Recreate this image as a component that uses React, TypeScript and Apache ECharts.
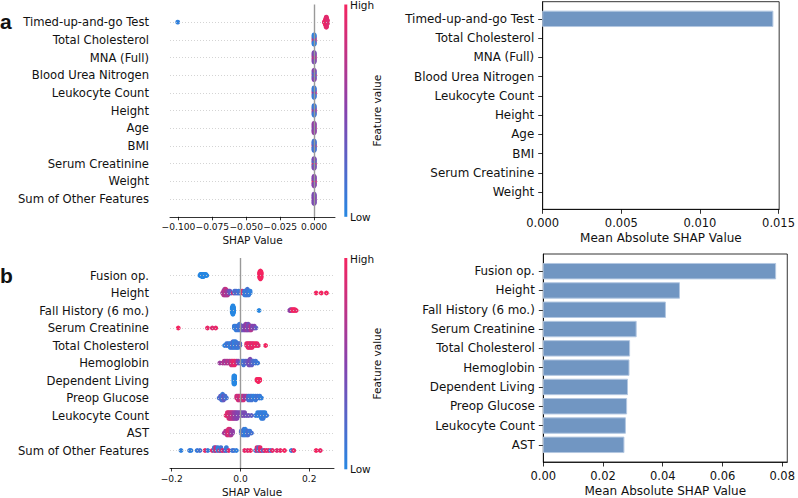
import React, { useEffect, useRef } from "react";
import * as echarts from "echarts";

const FONT = "DejaVu Sans";
const TEXT = "#111111";

// ---------- Panel a ----------
const featuresA = [
  "Timed-up-and-go Test",
  "Total Cholesterol",
  "MNA (Full)",
  "Blood Urea Nitrogen",
  "Leukocyte Count",
  "Height",
  "Age",
  "BMI",
  "Serum Creatinine",
  "Weight",
  "Sum of Other Features",
];
const barFeaturesA = featuresA.slice(0, 10);
const meanAbsA = [0.01464, 0, 0, 0, 0, 0, 0, 0, 0, 0];

// samples per feature row: [shap value, normalised feature value, count]
const shapA: number[][][] = [
  [[-0.1005, 0.05, 1], [0.0078, 0.95, 3], [0.0082, 0.9, 5], [0.0086, 1, 6], [0.009, 0.92, 6], [0.0094, 0.97, 4], [0.0098, 0.9, 2]],
  [[0, 0.1, 3], [0, 0.95, 4], [0, 0.3, 3], [0, 0.05, 6]],
  [[0, 0.95, 2], [0, 0.5, 5], [0, 0.9, 2], [0, 0.45, 7]],
  [[0, 0.9, 3], [0, 0.4, 5], [0, 0.2, 4], [0, 0.5, 4]],
  [[0, 0.95, 3], [0, 0.5, 5], [0, 0.1, 8]],
  [[0, 0.5, 4], [0, 0.8, 2], [0, 0.35, 5], [0, 0.1, 5]],
  [[0, 0.95, 3], [0, 0.45, 6], [0, 0.55, 7]],
  [[0, 0.9, 3], [0, 0.3, 5], [0, 0.15, 8]],
  [[0, 0.4, 4], [0, 0.95, 3], [0, 0.2, 5], [0, 0.45, 4]],
  [[0, 0.6, 4], [0, 0.95, 3], [0, 0.4, 5], [0, 0.5, 4]],
  [[0, 0.5, 8], [0, 0.45, 8]],
];

// ---------- Panel b ----------
const featuresB = [
  "Fusion op.",
  "Height",
  "Fall History (6 mo.)",
  "Serum Creatinine",
  "Total Cholesterol",
  "Hemoglobin",
  "Dependent Living",
  "Preop Glucose",
  "Leukocyte Count",
  "AST",
  "Sum of Other Features",
];
const barFeaturesB = featuresB.slice(0, 10);
const meanAbsB = [0.0778, 0.0456, 0.0409, 0.0311, 0.0289, 0.0287, 0.0282, 0.0279, 0.0275, 0.027];

const shapB: number[][][] = [
  // Fusion op.
  [[0.056, 1, 6], [0.058, 1, 8], [0.06, 1, 6], [-0.118, 0, 1], [-0.116, 0, 2], [-0.114, 0, 2], [-0.112, 0, 3], [-0.11, 0, 3], [-0.108, 0, 3], [-0.106, 0, 2], [-0.104, 0, 2], [-0.101, 0, 2], [-0.098, 0, 1]],
  // Height
  [[-0.052, 0.6, 1], [-0.049, 0.75, 3], [-0.046, 0.6, 4], [-0.043, 0.8, 4], [-0.04, 0.55, 3], [-0.037, 0.7, 3], [-0.034, 0.5, 2], [-0.031, 0.35, 2], [-0.027, 0.25, 1], [-0.021, 0.9, 1], [-0.017, 0.15, 2], [-0.013, 0.2, 2], [-0.009, 0.3, 1], [-0.005, 0.1, 2], [-0.002, 0.15, 1], [0.005, 0.95, 2], [0.012, 0.1, 3], [0.016, 0.05, 3], [0.02, 0.15, 4], [0.024, 0.1, 3], [0.028, 0.05, 2], [0.22, 1, 1], [0.235, 1, 1], [0.25, 1, 1]],
  // Fall History (6 mo.)
  [[-0.024, 0, 6], [-0.022, 0, 10], [-0.02, 0, 6], [0.054, 0, 1], [0.143, 0.6, 1], [0.146, 0.5, 2], [0.15, 0.9, 2], [0.154, 1, 2], [0.158, 1, 2], [0.162, 0.95, 1]],
  // Serum Creatinine
  [[-0.181, 1, 1], [-0.096, 0.95, 1], [-0.082, 0.9, 1], [-0.072, 0.95, 1], [-0.018, 0.1, 2], [-0.013, 0.05, 3], [-0.008, 0.15, 3], [-0.003, 0.1, 4], [0.002, 0.2, 3], [0.006, 0.35, 3], [0.011, 0.45, 3], [0.015, 0.5, 4], [0.019, 0.6, 4], [0.023, 0.4, 4], [0.027, 0.55, 3], [0.031, 0.7, 3], [0.035, 0.45, 2], [0.04, 0.5, 2], [0.045, 0.3, 1]],
  // Total Cholesterol
  [[-0.046, 0.05, 1], [-0.04, 0.1, 2], [-0.035, 0.15, 2], [-0.03, 0.05, 3], [-0.026, 0.1, 3], [-0.022, 0.2, 4], [-0.018, 0.05, 4], [-0.014, 0.1, 4], [-0.01, 0.15, 3], [-0.006, 0.1, 3], [-0.002, 0.2, 2], [0.018, 0.95, 2], [0.022, 0.9, 3], [0.026, 1, 3], [0.03, 0.85, 3], [0.034, 0.95, 3], [0.038, 0.9, 2], [0.043, 1, 2], [0.048, 0.95, 2], [0.052, 0.9, 1], [0.073, 1, 1]],
  // Hemoglobin
  [[-0.06, 0.6, 1], [-0.052, 0.65, 1], [-0.047, 0.7, 2], [-0.042, 0.6, 2], [-0.037, 0.75, 2], [-0.032, 0.65, 2], [-0.027, 0.8, 3], [-0.022, 0.9, 3], [-0.017, 0.95, 3], [-0.012, 0.85, 2], [-0.007, 0.5, 2], [-0.002, 0.3, 1], [0.004, 0.2, 2], [0.009, 0.15, 3], [0.014, 0.25, 2], [0.019, 0.3, 2], [0.024, 0.4, 3], [0.028, 0.45, 4], [0.033, 0.3, 3], [0.038, 0.2, 2], [0.044, 0.15, 2], [0.05, 0.1, 1]],
  // Dependent Living
  [[-0.019, 0, 8], [-0.017, 0, 8], [0.048, 1, 2], [0.052, 1, 3], [0.056, 1, 2]],
  // Preop Glucose
  [[-0.062, 0.15, 1], [-0.058, 0.3, 2], [-0.055, 0.2, 3], [-0.052, 0.1, 4], [-0.049, 0.35, 3], [-0.045, 0.2, 2], [-0.041, 0.15, 1], [-0.011, 0.8, 2], [-0.007, 0.9, 3], [-0.003, 0.7, 3], [0.001, 0.95, 3], [0.005, 0.6, 3], [0.009, 0.85, 3], [0.013, 0.5, 2], [0.018, 0.7, 2], [0.023, 0.2, 3], [0.028, 0.1, 3], [0.033, 0.15, 3], [0.038, 0.05, 2], [0.044, 0.1, 3], [0.05, 0.15, 2], [0.056, 0.1, 2], [0.061, 0.05, 1]],
  // Leukocyte Count
  [[-0.042, 0.95, 1], [-0.038, 0.9, 2], [-0.034, 0.85, 3], [-0.03, 0.8, 3], [-0.026, 0.75, 3], [-0.022, 0.7, 3], [-0.018, 0.6, 3], [-0.014, 0.55, 3], [-0.01, 0.5, 3], [-0.005, 0.45, 2], [0, 0.5, 2], [0.006, 0.4, 2], [0.012, 0.45, 2], [0.018, 0.35, 1], [0.024, 0.4, 1], [0.032, 0.3, 1], [0.044, 0.1, 1], [0.05, 0.05, 2], [0.056, 0.1, 2], [0.061, 0.05, 3], [0.066, 0.1, 3], [0.071, 0.05, 2], [0.076, 0.1, 1]],
  // AST
  [[-0.047, 0.6, 1], [-0.043, 0.7, 2], [-0.039, 0.75, 3], [-0.035, 0.9, 4], [-0.031, 0.85, 4], [-0.027, 0.65, 3], [-0.023, 0.55, 2], [0.002, 0.2, 2], [0.006, 0.1, 3], [0.01, 0.15, 4], [0.014, 0.05, 4], [0.018, 0.1, 3], [0.022, 0.2, 3], [0.027, 0.1, 2], [0.032, 0.15, 1]],
  // Sum of Other Features
  [[-0.173, 0.05, 1], [-0.148, 0.1, 1], [-0.144, 0.05, 1], [-0.126, 0.1, 1], [-0.118, 0.15, 1], [-0.103, 0.95, 1], [-0.095, 0.1, 1], [-0.082, 0.9, 1], [-0.076, 0.1, 2], [-0.072, 0.85, 2], [-0.066, 0.05, 2], [-0.061, 0.9, 1], [-0.057, 0.15, 2], [-0.052, 0.95, 1], [-0.046, 0.5, 1], [-0.041, 0.1, 2], [-0.034, 0.9, 1], [-0.024, 0.1, 1], [-0.019, 0.15, 1], [-0.012, 0.05, 1], [0.012, 0.95, 1], [0.021, 0.9, 1], [0.029, 1, 1], [0.044, 0.1, 1], [0.048, 0.9, 2], [0.053, 0.15, 2], [0.057, 0.95, 2], [0.061, 0.85, 1], [0.066, 0.1, 1], [0.07, 0.9, 1], [0.076, 0.95, 1], [0.082, 0.9, 1], [0.088, 0.1, 1], [0.093, 0.95, 1], [0.106, 0.9, 1], [0.116, 0.95, 1], [0.128, 1, 1], [0.148, 0.1, 1], [0.155, 0.95, 1], [0.22, 1, 1], [0.232, 0.95, 1]],
];

// axis ticks
const ticksA = [-0.1, -0.075, -0.05, -0.025, 0];
const ticksB = [-0.2, 0, 0.2];
const barTicksA = [0, 0.005, 0.01, 0.015];
const barTicksB = [0, 0.02, 0.04, 0.06, 0.08];

// red–blue feature colormap (low -> high)
const LOW = [38, 135, 226];
const MID = [134, 66, 174];
const HIGH = [244, 36, 96];

function featureColor(f: number): string {
  const a = f < 0.5 ? LOW : MID;
  const b = f < 0.5 ? MID : HIGH;
  const t = f < 0.5 ? f / 0.5 : (f - 0.5) / 0.5;
  const c = a.map((v, i) => Math.round(v + (b[i] - v) * t));
  return `rgb(${c[0]},${c[1]},${c[2]})`;
}

const SPREAD = 0.32;

// beeswarm offsets: bin the values, then stack alternately above/below the row
function swarmOffsets(xs: number[]): number[] {
  const mn = Math.min(...xs);
  const mx = Math.max(...xs);
  const quant = xs.map((x) => Math.round((100 * (x - mn)) / (mx - mn + 1e-8)));
  const order = xs.map((_, i) => i).sort((a, b) => quant[a] - quant[b] || a - b);
  const ys = new Array(xs.length).fill(0);
  let layer = 0;
  let last = -1;
  for (const i of order) {
    if (quant[i] !== last) layer = 0;
    ys[i] = Math.ceil(layer / 2) * ((layer % 2) * 2 - 1);
    layer++;
    last = quant[i];
  }
  const m = Math.max(...ys) + 1;
  return ys.map((y) => (y * SPREAD) / m);
}

function swarmPoints(rows: number[][][]) {
  const out: any[] = [];
  const n = rows.length;
  rows.forEach((row, k) => {
    const xs: number[] = [];
    const fs: number[] = [];
    row.forEach(([x, f, c]) => {
      for (let j = 0; j < c; j++) {
        xs.push(x);
        fs.push(f);
      }
    });
    const ys = swarmOffsets(xs);
    const pos = n - 1 - k;
    xs.forEach((x, i) => {
      out.push({ value: [x, pos + ys[i]], itemStyle: { color: featureColor(fs[i]) } });
    });
  });
  return out;
}

const fmt = (v: number, d: number) => (v < -1e-12 ? "\u2212" : "") + Math.abs(v).toFixed(d);

function swarmAxes(gridIndex: number, min: number, max: number, ticks: number[], digits: number, names: string[]) {
  const n = names.length;
  const idx = names.map((_, i) => i);
  return {
    x: {
      gridIndex,
      type: "value",
      min,
      max,
      axisLine: { show: true, onZero: false, lineStyle: { color: "#000", width: 0.8 } },
      axisTick: { show: true, length: 3.5, customValues: ticks, lineStyle: { color: "#000", width: 0.8 } },
      axisLabel: {
        customValues: ticks,
        showMinLabel: true,
        showMaxLabel: true,
        hideOverlap: false,
        formatter: (v: number) => fmt(v, digits),
        fontFamily: FONT,
        fontSize: 9.1,
        color: TEXT,
        margin: 6,
      },
      splitLine: { show: false },
      name: "SHAP Value",
      nameLocation: "middle",
      nameGap: 18,
      nameTextStyle: { fontFamily: FONT, fontSize: 10.5, color: TEXT },
    },
    y: {
      gridIndex,
      type: "value",
      min: -1,
      max: n,
      axisLine: { show: false, onZero: false },
      axisTick: { show: false },
      splitLine: { show: false },
      axisLabel: {
        customValues: idx,
        showMinLabel: true,
        showMaxLabel: true,
        formatter: (v: number) => names[n - 1 - Math.round(v)],
        fontFamily: FONT,
        fontSize: 11.6,
        color: TEXT,
        margin: 21,
      },
    },
  };
}

function barAxes(gridIndex: number, max: number, ticks: number[], digits: number, names: string[]) {
  const idx = names.map((_, i) => i);
  return {
    x: {
      gridIndex,
      type: "value",
      min: 0,
      max,
      axisLine: { show: true, onZero: false, lineStyle: { color: "#000", width: 0.8 } },
      axisTick: { show: true, length: 4.5, customValues: ticks, lineStyle: { color: "#000", width: 0.8 } },
      axisLabel: {
        customValues: ticks,
        showMinLabel: true,
        showMaxLabel: true,
        formatter: (v: number) => fmt(v, digits),
        fontFamily: FONT,
        fontSize: 11.5,
        color: TEXT,
        margin: 8,
      },
      splitLine: { show: false },
      name: "Mean Absolute SHAP Value",
      nameLocation: "middle",
      nameGap: 23,
      nameTextStyle: { fontFamily: FONT, fontSize: 12, color: TEXT },
    },
    y: {
      gridIndex,
      type: "value",
      inverse: true,
      min: -0.89,
      max: names.length - 0.11,
      axisLine: { show: true, onZero: false, lineStyle: { color: "#000", width: 0.8 } },
      axisTick: { show: true, length: 4.5, customValues: idx, lineStyle: { color: "#000", width: 0.8 } },
      splitLine: { show: false },
      axisLabel: {
        customValues: idx,
        showMinLabel: true,
        showMaxLabel: true,
        formatter: (v: number) => names[Math.round(v)],
        fontFamily: FONT,
        fontSize: 11.9,
        color: TEXT,
        margin: 8.5,
      },
    },
  };
}

function guideSeries(axisIndex: number, rows: number) {
  const lines: any[] = [];
  for (let i = 0; i < rows; i++) {
    lines.push({ yAxis: i, lineStyle: { color: "#c9c9c9", width: 0.8, type: [1, 2] } });
  }
  lines.push({ xAxis: 0, lineStyle: { color: "#999999", width: 1.4, type: "solid" } });
  return {
    type: "scatter",
    xAxisIndex: axisIndex,
    yAxisIndex: axisIndex,
    data: [],
    silent: true,
    z: 1,
    markLine: { silent: true, symbol: ["none", "none"], label: { show: false }, animation: false, data: lines },
  };
}

function barSeries(axisIndex: number, values: number[]) {
  return {
    type: "custom",
    xAxisIndex: axisIndex,
    yAxisIndex: axisIndex,
    data: values.map((v, i) => [v, i]),
    encode: { x: 0, y: 1 },
    renderItem: (_p: any, api: any) => {
      const v = api.value(0);
      const i = api.value(1);
      const a = api.coord([0, i - 0.4]);
      const b = api.coord([v, i + 0.4]);
      const w = b[0] - a[0];
      return {
        type: "rect",
        shape: { x: a[0], y: Math.min(a[1], b[1]), width: w, height: Math.abs(b[1] - a[1]) },
        style: { fill: "#7196c2", stroke: w > 0.5 ? "#b3c7e1" : "none", lineWidth: 1 },
      };
    },
  };
}

function colorbar(top: number, bottom: number) {
  const cx = 344.3;
  return [
    {
      type: "rect",
      shape: { x: cx, y: top, width: 3, height: bottom - top },
      style: {
        fill: new echarts.graphic.LinearGradient(0, 0, 0, 1, [
          { offset: 0, color: featureColor(1) },
          { offset: 0.5, color: featureColor(0.5) },
          { offset: 1, color: featureColor(0) },
        ]),
      },
    },
    {
      type: "text",
      x: 350,
      y: top + 0.5,
      style: { text: "High", fontFamily: FONT, fontSize: 10.5, fill: TEXT, align: "left", verticalAlign: "middle", textAlign: "left", textVerticalAlign: "middle" },
    },
    {
      type: "text",
      x: 350,
      y: bottom,
      style: { text: "Low", fontFamily: FONT, fontSize: 10.5, fill: TEXT, align: "left", verticalAlign: "middle", textAlign: "left", textVerticalAlign: "middle" },
    },
    {
      type: "text",
      x: 377,
      y: (top + bottom) / 2,
      rotation: Math.PI / 2,
      style: { text: "Feature value", fontFamily: FONT, fontSize: 10.5, fill: TEXT, align: "center", verticalAlign: "middle", textAlign: "center", textVerticalAlign: "middle" },
    },
  ];
}

const panelTag = (text: string, y: number) => ({
  type: "text",
  x: 0,
  y,
  style: {
    text,
    fontFamily: "Liberation Sans",
    fontWeight: "bold",
    fontSize: 21,
    fill: "#111",
    align: "left",
    verticalAlign: "middle",
    textAlign: "left",
    textVerticalAlign: "middle",
  },
});

export default function App() {
  const ref = useRef<HTMLDivElement>(null);

  useEffect(() => {
    if (!ref.current) return;
    const chart = echarts.init(ref.current, null, { renderer: "svg", width: 798, height: 498 });

    const sa = swarmAxes(0, -0.1062, 0.0154, ticksA, 3, featuresA);
    const ba = barAxes(1, 0.01504, barTicksA, 3, barFeaturesA);
    const sb = swarmAxes(2, -0.205, 0.272, ticksB, 1, featuresB);
    const bb = barAxes(3, 0.0817, barTicksB, 2, barFeaturesB);

    const frame = { show: true, borderColor: "#000", borderWidth: 0.8, backgroundColor: "transparent" };
    const dots = { type: "scatter", symbolSize: 4.8, z: 2, silent: true, itemStyle: { opacity: 1 } };

    chart.setOption({
      animation: false,
      backgroundColor: "#ffffff",
      grid: [
        { left: 170, top: 4.5, width: 165, height: 212.3 },
        { left: 542.7, top: 1.7, width: 239.6, height: 207.6, ...frame },
        { left: 170, top: 258, width: 164, height: 211.3 },
        { left: 543.3, top: 254, width: 244.4, height: 209.3, ...frame },
      ],
      xAxis: [sa.x, ba.x, sb.x, bb.x],
      yAxis: [sa.y, ba.y, sb.y, bb.y],
      series: [
        guideSeries(0, featuresA.length),
        { ...dots, xAxisIndex: 0, yAxisIndex: 0, data: swarmPoints(shapA) },
        barSeries(1, meanAbsA),
        guideSeries(2, featuresB.length),
        { ...dots, xAxisIndex: 2, yAxisIndex: 2, data: swarmPoints(shapB) },
        barSeries(3, meanAbsB),
      ],
      graphic: [
        ...colorbar(4.5, 216.8),
        ...colorbar(258, 469.3),
        panelTag("a", 21),
        panelTag("b", 275.5),
      ],
    });

    return () => chart.dispose();
  }, []);

  return <div ref={ref} style={{ position: "fixed", left: 0, top: 0, width: 798, height: 498 }} />;
}
